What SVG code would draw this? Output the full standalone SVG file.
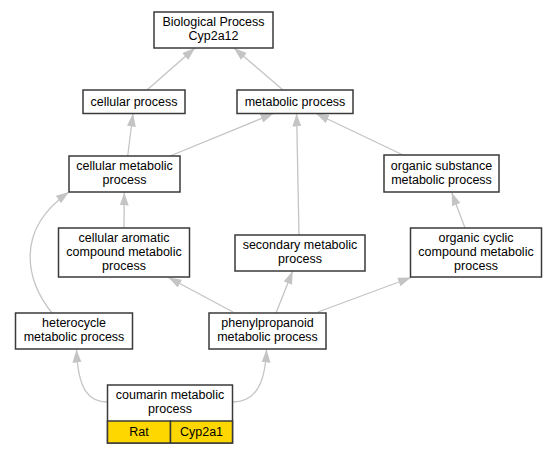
<svg xmlns="http://www.w3.org/2000/svg" width="557" height="453" viewBox="0 0 557 453">
<style>
.n rect{fill:#fff;stroke:#3a3a3a;stroke-width:1.5}
.n text{font-family:"Liberation Sans",Arial,sans-serif;font-size:12.5px;fill:#000;text-anchor:middle}
.e path{fill:none;stroke:#c4c4c4;stroke-width:1.3;marker-end:url(#ah)}
</style>
<defs>
<marker id="ah" markerUnits="userSpaceOnUse" markerWidth="14" markerHeight="10" refX="13" refY="4.5" orient="auto">
<path d="M0,0 L13,4.5 L0,9 z" fill="#c4c4c4"/>
</marker>
</defs>
<rect width="557" height="453" fill="#fff"/>
<g id="edges" class="e">
<path d="M147,90 L195,48"/>
<path d="M283,90 L234,48"/>
<path d="M127.7,156 L133,113.5"/>
<path d="M170,156 L273.5,113.5"/>
<path d="M299,235 L296.6,113.5"/>
<path d="M403,155 L316,113.5"/>
<path d="M465,228 L451.7,192.5"/>
<path d="M124,228 L124.3,192.5"/>
<path d="M52,313 C28,283 12,232 69,192"/>
<path d="M233,312 L168.5,277.5"/>
<path d="M276,313 L292.7,271"/>
<path d="M318,312 L411,277.5"/>
<path d="M107.5,402 C90,402 78,392 76.5,349.5"/>
<path d="M232.5,402 C250,402 265,392 266.5,349.5"/>
</g>
<g id="n_bio" class="n"><rect x="154" y="12" width="119" height="36"/><text x="213.5" y="26.3">Biological Process</text><text x="213.5" y="40.3">Cyp2a12</text></g>
<g id="n_cellular" class="n"><rect x="83" y="90" width="102" height="23.5"/><text x="134" y="105.5">cellular process</text></g>
<g id="n_metabolic" class="n"><rect x="237" y="90" width="116" height="23.5"/><text x="295" y="105.5">metabolic process</text></g>
<g id="n_cellmet" class="n"><rect x="69" y="156" width="111" height="36"/><text x="124.5" y="170.3">cellular metabolic</text><text x="124.5" y="184.3">process</text></g>
<g id="n_orgsub" class="n"><rect x="384" y="155" width="115" height="37"/><text x="441.5" y="169.8">organic substance</text><text x="441.5" y="183.8">metabolic process</text></g>
<g id="n_arom" class="n"><rect x="58.5" y="228" width="131" height="49"/><text x="124" y="241.8">cellular aromatic</text><text x="124" y="255.8">compound metabolic</text><text x="124" y="269.8">process</text></g>
<g id="n_secondary" class="n"><rect x="235" y="235" width="130" height="36"/><text x="300" y="249.3">secondary metabolic</text><text x="300" y="263.3">process</text></g>
<g id="n_orgcyc" class="n"><rect x="410.5" y="228" width="131" height="49"/><text x="476" y="241.8">organic cyclic</text><text x="476" y="255.8">compound metabolic</text><text x="476" y="269.8">process</text></g>
<g id="n_hetero" class="n"><rect x="15.5" y="313" width="117" height="36"/><text x="74" y="327.3">heterocycle</text><text x="74" y="341.3">metabolic process</text></g>
<g id="n_phenyl" class="n"><rect x="209" y="313" width="117" height="36"/><text x="267.5" y="327.3">phenylpropanoid</text><text x="267.5" y="341.3">metabolic process</text></g>
<g id="n_coumarin" class="n"><rect x="107.5" y="385" width="125" height="58"/><rect x="107.5" y="421" width="63" height="22" style="fill:#ffd700"/><rect x="170.5" y="421" width="62" height="22" style="fill:#ffd700"/><text x="170" y="399.3">coumarin metabolic</text><text x="170" y="413.3">process</text><text x="139" y="436.3">Rat</text><text x="201.5" y="436.3">Cyp2a1</text></g>
</svg>
